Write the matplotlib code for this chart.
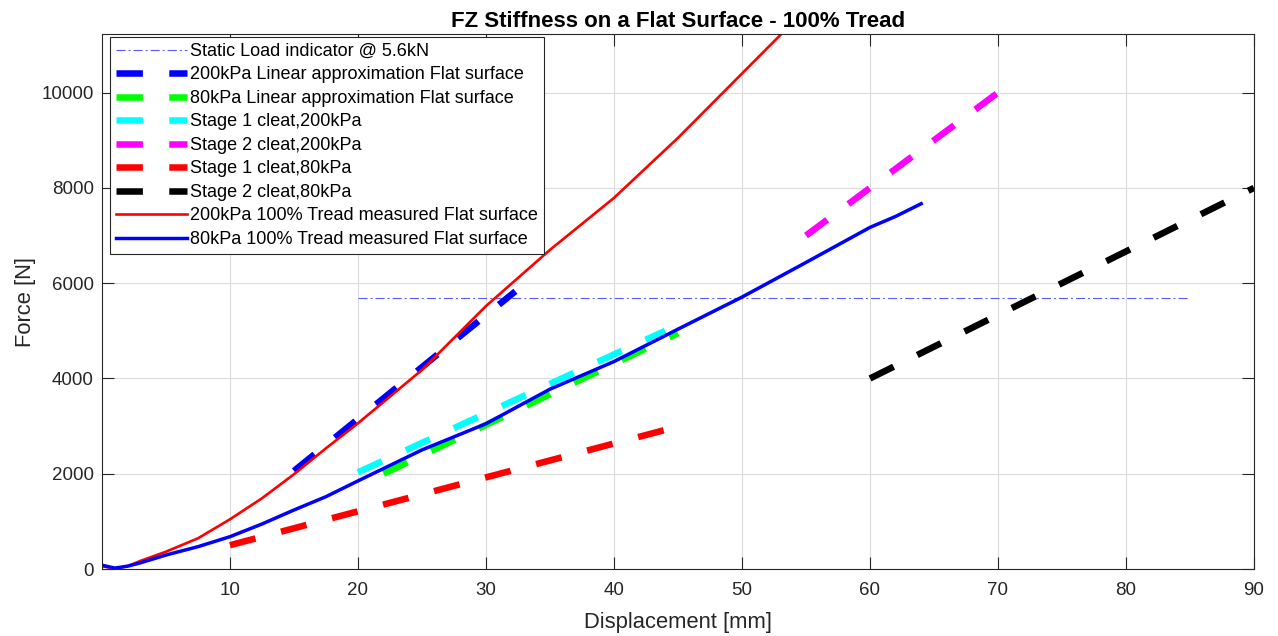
import matplotlib
matplotlib.use("Agg")
import matplotlib.pyplot as plt

plt.rcParams['font.family'] = ['Liberation Sans', 'DejaVu Sans']
plt.rcParams['lines.scale_dashes'] = False

# ---- data ----
static_x = [20, 85]
static_y = [5690, 5690]

lin200_x = [15, 32.3]
lin200_y = [2060, 5830]

lin80_x = [22, 45]
lin80_y = [2000, 4950]

s1_200_x = [20, 44]
s1_200_y = [2030, 5000]

s2_200_x = [55, 70]
s2_200_y = [7000, 10000]

s1_80_x = [10, 44]
s1_80_y = [500, 2920]

s2_80_x = [60, 90]
s2_80_y = [4000, 8000]

meas200_x = [0, 1, 2, 3, 5, 7.5, 10, 12.5, 15, 17.5, 20, 25, 30, 35, 40, 45, 50, 54]
meas200_y = [60, 10, 60, 170, 364, 645, 1044, 1485, 1990, 2535, 3060, 4180, 5520, 6700, 7790, 9050, 10400, 11480]

meas80_x = [0, 1, 2, 3, 5, 7.5, 10, 12.5, 15, 17.5, 20, 25, 30, 35, 40, 45, 50, 55, 60, 62, 64]
meas80_y = [80, 20, 60, 130, 294, 469, 679, 945, 1239, 1519, 1850, 2500, 3050, 3775, 4355, 5035, 5708, 6435, 7171, 7401, 7668]

x_ticks = [10, 20, 30, 40, 50, 60, 70, 80, 90]
y_ticks = [0, 2000, 4000, 6000, 8000, 10000]

labels = [
    'Static Load indicator @ 5.6kN',
    '200kPa Linear approximation Flat surface',
    '80kPa Linear approximation Flat surface',
    'Stage 1 cleat,200kPa',
    'Stage 2 cleat,200kPa',
    'Stage 1 cleat,80kPa',
    'Stage 2 cleat,80kPa',
    '200kPa 100% Tread measured Flat surface',
    '80kPa 100% Tread measured Flat surface',
]

# ---- figure ----
fig = plt.figure(figsize=(12.78, 6.36), dpi=100)
ax = fig.add_axes([0.0798, 0.1053, 0.9014, 0.8412])

dash = (0, (19, 19))
thick = 4.7

ax.plot(static_x, static_y, color=(0.35, 0.35, 1.0), lw=0.8,
        linestyle=(0, (6.5, 2.2, 1.4, 2.2)), label=labels[0])
ax.plot(lin200_x, lin200_y, color=(0, 0, 1), lw=thick, linestyle=dash, label=labels[1])
ax.plot(lin80_x, lin80_y, color=(0, 1, 0), lw=thick, linestyle=dash, label=labels[2])
ax.plot(s1_200_x, s1_200_y, color=(0, 1, 1), lw=thick, linestyle=dash, label=labels[3])
ax.plot(s2_200_x, s2_200_y, color=(1, 0, 1), lw=thick, linestyle=dash, label=labels[4])
ax.plot(s1_80_x, s1_80_y, color=(1, 0, 0), lw=thick, linestyle=dash, label=labels[5])
ax.plot(s2_80_x, s2_80_y, color=(0, 0, 0), lw=thick, linestyle=dash, label=labels[6])
ax.plot(meas200_x, meas200_y, color=(1, 0, 0), lw=1.9, label=labels[7])
ax.plot(meas80_x, meas80_y, color=(0, 0, 1), lw=2.5, label=labels[8])

ax.set_xlim(0, 90)
ax.set_ylim(0, 11230)
ax.set_xticks(x_ticks)
ax.set_yticks(y_ticks)

ax.grid(True, color=(0.86, 0.86, 0.86), lw=0.8)
ax.set_axisbelow(True)
for s in ax.spines.values():
    s.set_color((0.15, 0.15, 0.15))
    s.set_linewidth(0.8)
ax.tick_params(direction='in', length=8.5, width=0.8, top=True, right=True,
               colors=(0.15, 0.15, 0.15), labelsize=13.5)
ax.tick_params(axis='x', pad=9)
ax.tick_params(axis='y', pad=6)
for lab in ax.get_xticklabels() + ax.get_yticklabels():
    lab.set_color((0.15, 0.15, 0.15))

ax.set_xlabel('Displacement [mm]', fontsize=15.8, color=(0.15, 0.15, 0.15), labelpad=10)
ax.set_ylabel('Force [N]', fontsize=15.8, color=(0.15, 0.15, 0.15), labelpad=4)
ax.set_title('FZ Stiffness on a Flat Surface - 100% Tread', fontsize=16, fontweight='bold', pad=5)

leg = ax.legend(loc='upper left', bbox_to_anchor=(0.0069, 0.9944), borderaxespad=0,
                fontsize=13, handlelength=3.95, handletextpad=0.18, labelspacing=0.36,
                borderpad=0.33, fancybox=False, framealpha=1, edgecolor=(0.15, 0.15, 0.15))
leg.get_frame().set_linewidth(0.8)

fig.savefig('out.png', dpi=100)
